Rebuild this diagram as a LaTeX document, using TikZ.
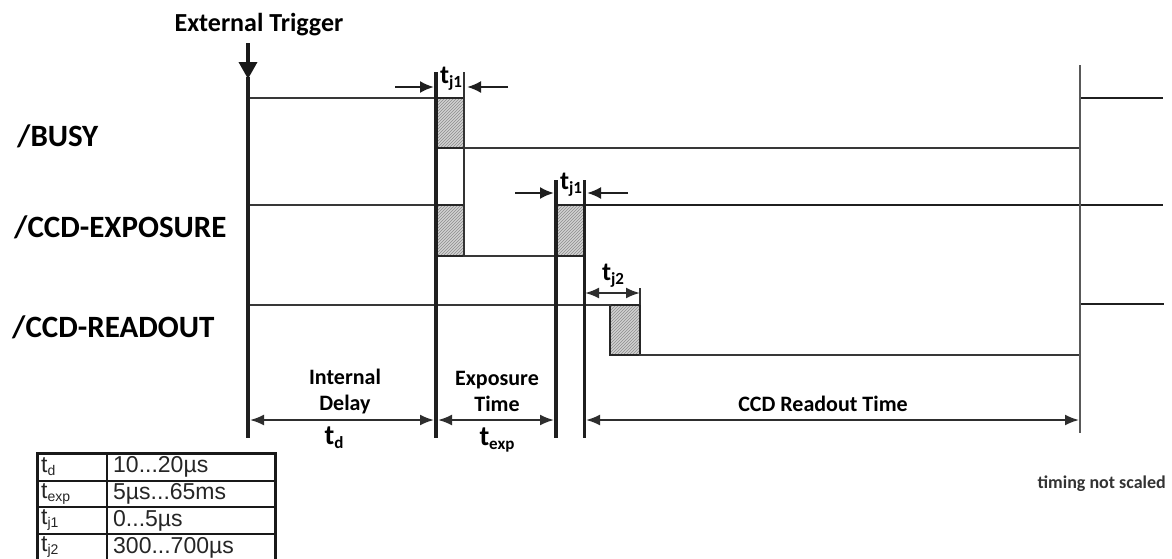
\documentclass[tikz,border=0pt]{standalone}
\usepackage{fontspec}
\setmainfont{Carlito}
\newfontfamily\arialf{Liberation Sans}
\usetikzlibrary{arrows.meta,patterns}
\newcommand{\tsub}[4]{{\fontsize{#1}{#1}\selectfont t}\raisebox{-#3pt}{\fontsize{#2}{#2}\selectfont #4}}
\newcommand{\tabsub}[1]{t\raisebox{-3pt}{\fontsize{14}{14}\selectfont #1}}
\begin{document}
\begin{tikzpicture}[x=1pt,y=-1pt,
  sig/.style={line width=2.5pt, draw=black!78, line cap=rect},
  vline/.style={line width=3.5pt, draw=black!88},
  medv/.style={line width=2.5pt, draw=black!65},
  thinv/.style={line width=1.8pt, draw=black!80},
  hatchbox/.style={draw=black!85, line width=2.4pt, preaction={fill=black!18}, pattern=north east lines, pattern color=black!45},
  dimarrow/.style={line width=2pt, draw=black!82, {Latex[length=14pt,width=11pt]}-{Latex[length=14pt,width=11pt]}},
  onearrow/.style={line width=2.2pt, draw=black!88, -{Latex[length=14pt,width=12pt]}},
  siglabel/.style={font=\bfseries\fontsize{31}{34}\selectfont, anchor=west, inner sep=0pt},
  dimlabel/.style={font=\bfseries\fontsize{22}{26}\selectfont, align=center, inner sep=0pt},
  tlabel/.style={font=\bfseries, inner sep=0pt},
  tabtext/.style={font=\arialf\fontsize{23}{24}\selectfont, anchor=west, inner sep=0pt, text=black!85}
]
\useasboundingbox (0,0) rectangle (1172,558);
\clip (0,0) rectangle (1172,558);
\fill[white] (0,0) rectangle (1172,558);

% hatched boxes
\draw[hatchbox] (436,98) rectangle (464,148);
\draw[hatchbox] (436,205) rectangle (464,256);
\draw[hatchbox] (556,205) rectangle (584,256);
\draw[hatchbox] (610,305) rectangle (640,355);

% signals
\draw[sig] (248,98) -- (436,98);
\draw[sig] (464,148) -- (1080,148);
\draw[sig, line width=2.8pt, draw=black!88] (1080,148) -- (1080,98) -- (1162,98);

\draw[sig] (248,205) -- (436,205);
\draw[sig] (464,256) -- (556,256);
\draw[sig, line width=2.8pt, draw=black!88] (584,205) -- (1162,205);

\draw[sig] (248,305) -- (610,305);
\draw[sig] (640,355) -- (1080,355);
\draw[sig, line width=2.8pt, draw=black!88] (1080,355) -- (1080,304) -- (1163,304);

% vertical reference lines
\draw[vline] (248,77) -- (248,438);
\draw[vline] (436,72) -- (436,438);
\draw[thinv] (464,72) -- (464,256);
\draw[vline] (556,180) -- (556,438);
\draw[vline, line width=3pt] (584,180) -- (584,438);
\draw[thinv] (640,288) -- (640,305);
\draw[medv] (1080,65) -- (1080,433);

% external trigger
\node[tlabel, font=\bfseries\fontsize{26}{28}\selectfont] (trig) at (259,25) {External Trigger};
\draw[line width=3.5pt, draw=black!90, -{Triangle[length=17pt,width=18pt]}] (248,43) -- (248,79);

% t_j1 markers
\draw[onearrow] (395,87) -- (434,87);
\draw[onearrow] (508,87) -- (467,87);
\node[tlabel] (tj1a) at (451,79) {\tsub{26}{17}{4}{j1}};
\draw[onearrow] (515,193) -- (554,193);
\draw[onearrow] (628,193) -- (587,193);
\node[tlabel] (tj1b) at (571,185) {\tsub{26}{17}{4}{j1}};
\draw[dimarrow, line width=2.2pt] (585,293) -- (640,293);
\node[tlabel] (tj2) at (613,276) {\tsub{26}{17}{4}{j2}};

% signal labels
\node[siglabel] (busy) at (17,136) {/BUSY};
\node[siglabel] (exp) at (14,227) {/CCD-EXPOSURE};
\node[siglabel] (rd) at (12,327) {/CCD-READOUT};

% bottom dimension arrows
\draw[dimarrow] (250,420) -- (434,420);
\draw[dimarrow] (438,420) -- (554,420);
\draw[dimarrow] (586,420) -- (1079,420);
\node[dimlabel] (intd) at (345,392) {Internal\\Delay};
\node[dimlabel] (expt) at (497,391) {Exposure\\Time};
\node[dimlabel] (ccdt) at (823,404) {CCD Readout Time};
\node[tlabel] (td) at (334,438) {\tsub{28}{17}{4}{d}};
\node[tlabel] (texp) at (497,440) {\tsub{28}{17}{4}{exp}};

\node[font=\bfseries\fontsize{18}{20}\selectfont, anchor=east, inner sep=0pt, text=black!80] (nots) at (1166,484) {timing not scaled};

% table
\draw[line width=3pt, draw=black!90] (37,453) rectangle (275,561);
\draw[line width=2.8pt, draw=black!90] (37,481) -- (275,481) (37,507) -- (275,507) (37,534) -- (275,534) (107,453) -- (107,561);
\node[tabtext] (r1a) at (41,467) {\tabsub{d}};
\node[tabtext] (r1b) at (113,467) {10...20µs};
\node[tabtext] (r2a) at (41,494) {\tabsub{exp}};
\node[tabtext] (r2b) at (113,494) {5µs...65ms};
\node[tabtext] (r3a) at (41,520.5) {\tabsub{j1}};
\node[tabtext] (r3b) at (113,520.5) {0...5µs};
\node[tabtext] (r4a) at (41,547.5) {\tabsub{j2}};
\node[tabtext] (r4b) at (113,547.5) {300...700µs};
\end{tikzpicture}
\end{document}
